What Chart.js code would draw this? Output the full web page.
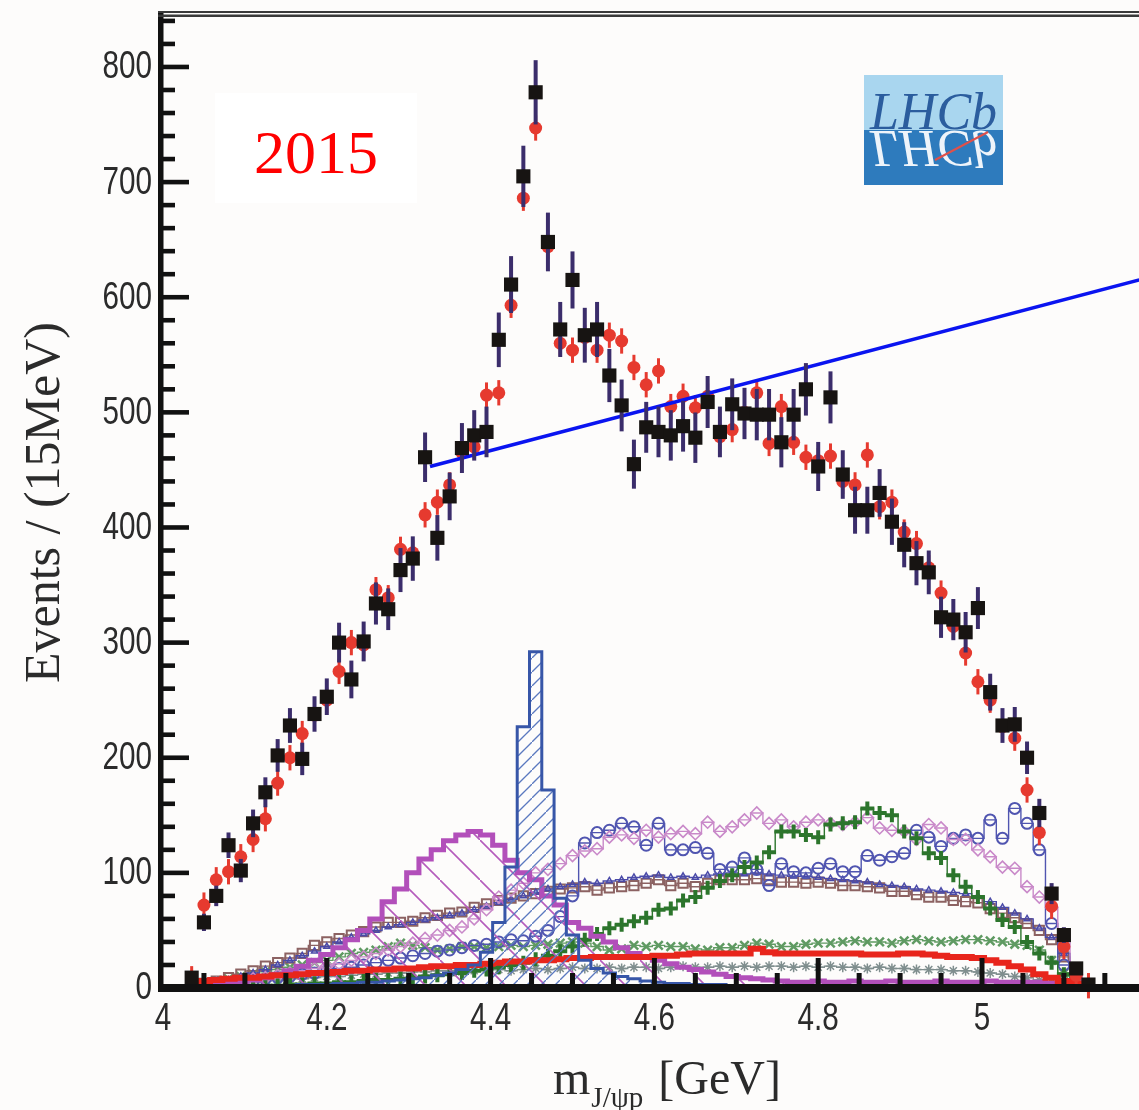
<!DOCTYPE html>
<html>
<head>
<meta charset="utf-8">
<script src="https://cdn.jsdelivr.net/npm/chart.js@4.4.0/dist/chart.umd.min.js"></script>
<style>
html, body { margin: 0; padding: 0; background: #fdfcfb; }
canvas { display: block; }
</style>
</head>
<body>
<canvas id="chart" width="1139" height="1110"></canvas>
<script>
// bin centres of m(J/psi p), 15 MeV bins
var mass = [
  4.035, 4.050, 4.065, 4.080, 4.095, 4.110, 4.125, 4.140, 4.155, 4.170,
  4.185, 4.200, 4.215, 4.230, 4.245, 4.260, 4.275, 4.290, 4.305, 4.320,
  4.335, 4.350, 4.365, 4.380, 4.395, 4.410, 4.425, 4.440, 4.455, 4.470,
  4.485, 4.500, 4.515, 4.530, 4.545, 4.560, 4.575, 4.590, 4.605, 4.620,
  4.635, 4.650, 4.665, 4.680, 4.695, 4.710, 4.725, 4.740, 4.755, 4.770,
  4.785, 4.800, 4.815, 4.830, 4.845, 4.860, 4.875, 4.890, 4.905, 4.920,
  4.935, 4.950, 4.965, 4.980, 4.995, 5.010, 5.025, 5.040, 5.055, 5.070,
  5.085, 5.100, 5.115, 5.130
];

// data (black squares) and their errors
var dataEvents = [
  9, 57, 80, 124, 102, 143, 170, 202, 228, 199,
  238, 253, 300, 268, 301, 334, 329, 363, 373, 461,
  391, 427, 469, 480, 483, 563, 611, 705, 778, 648,
  572, 615, 567, 572, 532, 506, 455, 487, 483, 480,
  488, 478, 509, 483, 507, 499, 498, 498, 474, 498,
  520, 453, 513, 446, 415, 415, 430, 405, 385, 369,
  361, 322, 320, 309, 330, 257, 228, 229, 200, 152,
  82, 46, 17, 3
];
var dataErr = [
  3, 7.5, 8.9, 11.1, 10.1, 12, 13, 14.2, 15.1, 14.1,
  15.4, 15.9, 17.3, 16.4, 17.3, 18.3, 18.1, 19.1, 19.3, 21.5,
  19.8, 20.7, 21.7, 21.9, 22, 23.7, 24.7, 26.6, 27.9, 25.5,
  23.9, 24.8, 23.8, 23.9, 23.1, 22.5, 21.3, 22.1, 22, 21.9,
  22.1, 21.9, 22.6, 22, 22.5, 22.3, 22.3, 22.3, 21.8, 22.3,
  22.8, 21.3, 22.6, 21.1, 20.4, 20.4, 20.7, 20.1, 19.6, 19.2,
  19, 17.9, 17.9, 17.6, 18.2, 16, 15.1, 15.1, 14.1, 12.3,
  9.1, 6.8, 4.1, 1.7
];

// full fit (red dots)
var fitTotal = [
  8, 72, 94, 101, 114, 129, 147, 178, 200, 221,
  237, 250, 275, 300, 298, 346, 339, 381, 378, 411,
  422, 437, 465, 470, 515, 517, 593, 686, 747, 644,
  560, 554, 565, 554, 567, 562, 539, 524, 536, 505,
  514, 504, 514, 479, 485, 500, 517, 473, 505, 474,
  461, 458, 462, 440, 437, 463, 418, 422, 396, 386,
  365, 343, 314, 291, 266, 250, 227, 217, 172, 135,
  71, 36, 11, 2
];
var fitErr = 11;

// Pc(4450) hatched blue
var pc4450 = [
  0, 0, 1, 1, 1, 1, 2, 2, 2, 3,
  3, 3, 4, 4, 5, 5, 6, 7, 8, 9,
  11, 13, 16, 20, 31, 57, 105, 227, 292, 172,
  78, 46, 24, 17, 13, 10, 8, 6, 5, 4,
  4, 3, 3, 3, 2, 2, 2, 2, 2, 2,
  2, 2, 1, 1, 1, 1, 1, 1, 1, 1,
  1, 1, 1, 1, 1, 1, 1, 1, 1, 1,
  1, 0, 0, 0
];
// Pc(4380) hatched magenta
var pc4380 = [
  1, 2, 3, 4, 5, 7, 9, 12, 15, 19,
  24, 29, 35, 42, 50, 60, 75, 86, 100, 112,
  120, 128, 133, 136, 133, 124, 111, 100, 94, 80,
  72, 57, 52, 45, 40, 35, 30, 27, 24, 21,
  18, 16, 14, 12, 10, 9, 8, 7, 6, 5,
  5, 6, 5, 5, 6, 5, 5, 6, 5, 5,
  5, 6, 5, 5, 5, 6, 5, 5, 5, 5,
  4, 3, 1, 0
];
// Lambda* components
var lambdaCircles = [
  1, 2, 3, 4, 5, 6, 8, 9, 10, 12,
  13, 15, 17, 18, 20, 22, 24, 26, 28, 30,
  32, 33, 35, 37, 38, 40, 42, 41, 45, 50,
  62, 80, 126, 135, 137, 143, 140, 124, 143, 120,
  120, 122, 117, 103, 105, 113, 103, 89, 108, 101,
  100, 104, 108, 101, 101, 115, 111, 114, 117, 137,
  131, 123, 130, 133, 130, 146, 130, 156, 143, 120,
  56, 20, 5, 1
];
var lambdaDiamonds = [
  2, 3, 4, 5, 6, 8, 9, 11, 13, 15,
  17, 19, 21, 24, 27, 30, 33, 36, 39, 43,
  46, 50, 53, 60, 68, 79, 85, 91, 100, 103,
  108, 115, 119, 121, 131, 133, 130, 137, 131, 134,
  136, 134, 144, 136, 140, 146, 152, 143, 146, 140,
  144, 146, 143, 142, 144, 148, 139, 137, 136, 129,
  142, 139, 129, 129, 120, 114, 105, 104, 88, 79,
  70, 42, 12, 2
];
var lambdaCrosses = [
  0, 0, 1, 1, 1, 2, 2, 2, 3, 3,
  4, 4, 5, 5, 6, 7, 7, 8, 9, 10,
  11, 12, 13, 15, 16, 18, 20, 22, 25, 28,
  32, 36, 42, 47, 52, 55, 58, 61, 68, 69,
  76, 79, 87, 93, 98, 105, 109, 118, 136, 136,
  133, 131, 142, 143, 144, 156, 152, 150, 136, 130,
  117, 113, 98, 88, 79, 69, 59, 53, 40, 30,
  22, 12, 4, 1
];
var lambdaSquares = [
  2, 4, 6, 9, 12, 15, 19, 22, 26, 30,
  37, 40, 43, 46, 49, 53, 57, 57, 58, 61,
  63, 65, 66, 70, 73, 76, 78, 80, 82, 84,
  86, 87, 88, 85, 87, 88, 89, 91, 94, 89,
  91, 88, 91, 94, 94, 94, 95, 94, 92, 92,
  91, 92, 91, 89, 89, 88, 87, 84, 84, 81,
  79, 79, 76, 75, 74, 69, 65, 61, 56, 50,
  42, 27, 13, 2
];
var lambdaTriangles = [
  2, 3, 5, 7, 10, 13, 16, 20, 24, 28,
  32, 36, 40, 44, 47, 50, 53, 55, 57, 59,
  61, 63, 65, 68, 71, 74, 77, 80, 83, 86,
  88, 90, 92, 91, 93, 94, 96, 97, 98, 96,
  97, 96, 98, 99, 100, 99, 100, 99, 98, 97,
  97, 96, 95, 94, 93, 92, 90, 89, 88, 86,
  85, 84, 83, 82, 80, 75, 70, 65, 60, 52,
  44, 30, 14, 3
];
var lambdaX = [
  2, 4, 6, 8, 10, 12, 14, 16, 18, 20,
  22, 24, 27, 30, 31, 33, 36, 39, 37, 35,
  33, 34, 36, 36, 35, 36, 37, 36, 37, 38,
  39, 40, 39, 36, 33, 34, 37, 36, 37, 36,
  36, 34, 33, 35, 35, 37, 39, 38, 36, 36,
  38, 39, 39, 40, 41, 40, 40, 39, 41, 42,
  41, 40, 41, 42, 42, 41, 40, 38, 37, 33,
  24, 13, 5, 1
];
var lambdaStars = [
  1, 2, 3, 4, 5, 5, 6, 7, 8, 8,
  9, 10, 10, 11, 12, 12, 13, 13, 14, 14,
  15, 15, 14, 15, 16, 16, 15, 16, 17, 16,
  17, 18, 17, 17, 18, 17, 18, 18, 17, 18,
  19, 18, 18, 19, 18, 19, 18, 19, 19, 18,
  19, 18, 19, 18, 18, 17, 18, 17, 17, 16,
  16, 16, 15, 15, 14, 13, 12, 10, 9, 7,
  5, 3, 2, 1
];
// background (thick red line)
var bkg = [
  5, 6, 7, 8, 9, 9, 10, 11, 11, 12,
  13, 13, 14, 15, 15, 16, 16, 17, 17, 18,
  19, 19, 20, 20, 21, 22, 23, 23, 24, 24,
  25, 26, 26, 27, 27, 27, 27, 27, 28, 28,
  29, 30, 30, 30, 30, 30, 34, 31, 30, 30,
  30, 30, 30, 30, 30, 29, 29, 29, 30, 30,
  29, 28, 27, 27, 26, 24, 22, 19, 16, 12,
  9, 6, 4, 3
];

// straight blue line drawn over the plot
var lineMass = [4.326, 5.192];
var lineEvents = [453, 615];

var yLabels = [0, 100, 200, 300, 400, 500, 600, 700, 800];
var xLabels = [4, 4.2, 4.4, 4.6, 4.8, 5];

function pts(arr) {
  return mass.map(function(m, i) { return {x: m, y: arr[i]}; });
}

var tmpCtx = document.createElement('canvas').getContext('2d');
var blueHatch = (function() {
  var c = document.createElement('canvas'); c.width = 14; c.height = 14;
  var g = c.getContext('2d'); g.strokeStyle = '#5b79bf'; g.lineWidth = 1.3;
  g.beginPath(); g.moveTo(-1, 15); g.lineTo(15, -1); g.stroke();
  return tmpCtx.createPattern(c, 'repeat');
})();
var magHatch = (function() {
  var c = document.createElement('canvas'); c.width = 40; c.height = 40;
  var g = c.getContext('2d'); g.strokeStyle = '#b45cbc'; g.lineWidth = 1.6;
  g.beginPath(); g.moveTo(-1, -1); g.lineTo(41, 41); g.stroke();
  return tmpCtx.createPattern(c, 'repeat');
})();

var errorBars = {
  id: 'errorBars',
  beforeDatasetDraw: function(chart, args) {
    var ds = chart.data.datasets[args.index];
    if (ds.errors === undefined) return;
    var y = chart.scales.y, ctx = chart.ctx;
    ctx.save();
    ctx.strokeStyle = ds.errorColor;
    ctx.lineWidth = ds.errorWidth;
    args.meta.data.forEach(function(p, i) {
      var v = ds.data[i].y;
      var e = typeof ds.errors === 'number' ? ds.errors : ds.errors[i];
      ctx.beginPath();
      ctx.moveTo(p.x, y.getPixelForValue(v - e));
      ctx.lineTo(p.x, y.getPixelForValue(v + e));
      ctx.stroke();
    });
    ctx.restore();
  }
};

var tickFont = '38px "Liberation Sans"';
var narrow = 0.78;

var decor = {
  id: 'decor',
  beforeDraw: function(chart) {
    var ctx = chart.ctx;
    ctx.save();
    ctx.fillStyle = '#fdfcfb';
    ctx.fillRect(0, 0, chart.width, chart.height);
    ctx.restore();
  },
  beforeDatasetsDraw: function(chart) {
    var ctx = chart.ctx;
    ctx.save();
    // 2015 label
    ctx.fillStyle = '#ffffff';
    ctx.fillRect(215, 93, 202, 110);
    ctx.fillStyle = '#ff0000';
    ctx.font = '62px "Liberation Serif"';
    ctx.textAlign = 'center';
    ctx.textBaseline = 'alphabetic';
    ctx.fillText('2015', 316, 173);
    // LHCb logo
    var lx = 864, ly = 75, lw = 139, lh = 110;
    ctx.fillStyle = '#a9d6ef';
    ctx.fillRect(lx, ly, lw, lh / 2);
    ctx.fillStyle = '#2e7bbd';
    ctx.fillRect(lx, ly + lh / 2, lw, lh / 2);
    ctx.font = 'italic 52px "Liberation Serif"';
    ctx.fillStyle = '#2b5d9e';
    ctx.fillText('LHCb', lx + lw / 2, ly + lh / 2 - 1);
    ctx.save();
    ctx.translate(0, 2 * (ly + lh / 2));
    ctx.scale(1, -1);
    ctx.fillStyle = '#eef4fa';
    ctx.fillText('LHCb', lx + lw / 2, ly + lh / 2 - 1);
    ctx.restore();
    ctx.strokeStyle = '#e0504a';
    ctx.lineWidth = 2;
    ctx.beginPath();
    ctx.moveTo(935, 160);
    ctx.lineTo(988, 132);
    ctx.stroke();
    ctx.restore();
  },
  afterDatasetsDraw: function(chart) {
    var ctx = chart.ctx, a = chart.chartArea;
    var xs = chart.scales.x, ys = chart.scales.y;
    ctx.save();
    ctx.fillStyle = '#111';
    // y ticks (inside)
    for (var v = 0; v <= 840; v += 20) {
      var py = ys.getPixelForValue(v);
      var len = v % 100 === 0 ? 26 : 12;
      ctx.fillRect(a.left, py - 2.3, len, 4.6);
    }
    // x ticks (inside)
    for (var k = 1; k <= 23; k++) {
      var px = xs.getPixelForValue(4 + k * 0.05);
      var tl = k % 4 === 0 ? 30 : 15;
      ctx.fillRect(px - 2.5, a.bottom - tl, 5, tl);
    }
    // spines
    ctx.fillRect(a.left - 5, a.top - 6, 5.5, a.bottom - a.top + 10);
    ctx.fillRect(a.left - 5, a.bottom - 4, a.right - a.left + 5, 8);
    ctx.fillStyle = '#3a3a3a';
    ctx.fillRect(a.left - 5, a.top - 6, a.right - a.left + 5, 2);
    ctx.fillRect(a.left - 5, a.top - 2.5, a.right - a.left + 5, 2.5);

    // tick labels, narrow sans
    ctx.fillStyle = '#2b2b2b';
    ctx.font = tickFont;
    ctx.textBaseline = 'middle';
    ctx.textAlign = 'right';
    yLabels.forEach(function(v) {
      ctx.save();
      ctx.translate(152, ys.getPixelForValue(v) + 1);
      ctx.scale(narrow, 1);
      ctx.fillText(String(v), 0, 0);
      ctx.restore();
    });
    ctx.textBaseline = 'alphabetic';
    ctx.textAlign = 'center';
    xLabels.forEach(function(v) {
      ctx.save();
      ctx.translate(xs.getPixelForValue(v), 1030);
      ctx.scale(narrow, 1);
      ctx.fillText(String(v), 0, 0);
      ctx.restore();
    });

    // x title with subscript
    ctx.fillStyle = '#2b2b2b';
    ctx.textAlign = 'left';
    var big = '48px "Liberation Serif"', small = '29px "Liberation Serif"';
    ctx.font = big;
    var w1 = ctx.measureText('m').width, w3 = ctx.measureText('[GeV]').width;
    ctx.font = small;
    var w2 = ctx.measureText('J/\u03c8p').width;
    var gap = 16;
    var x0 = 667 - (w1 + w2 + gap + w3) / 2;
    ctx.font = big;
    ctx.fillText('m', x0, 1094);
    ctx.font = small;
    ctx.fillText('J/\u03c8p', x0 + w1 + 1, 1107);
    ctx.font = big;
    ctx.fillText('[GeV]', x0 + w1 + w2 + gap, 1094);
    ctx.restore();
  }
};

function comp(label, arr, color, style, radius, bw, order) {
  return {
    label: label,
    data: pts(arr),
    stepped: 'middle',
    borderColor: color,
    borderWidth: 1.4,
    pointStyle: style,
    pointRadius: radius,
    pointBorderColor: color,
    pointBorderWidth: bw,
    pointBackgroundColor: 'rgba(255,255,255,0)',
    fill: false,
    order: order
  };
}

function noPad(s) {
  s.paddingTop = 0; s.paddingBottom = 0; s.paddingLeft = 0; s.paddingRight = 0;
}

var ctx = document.getElementById('chart').getContext('2d');
var myChart = new Chart(ctx, {
  type: 'line',
  data: {
    datasets: [
      {
        label: 'data',
        data: pts(dataEvents),
        showLine: false,
        pointStyle: 'rect',
        pointRadius: 10,
        pointBackgroundColor: '#171412',
        pointBorderWidth: 0,
        errors: dataErr,
        errorColor: '#3b2d6b',
        errorWidth: 4,
        clip: false,
        order: 1
      },
      {
        label: 'fit',
        data: pts(fitTotal),
        showLine: false,
        pointStyle: 'circle',
        pointRadius: 6.5,
        pointBackgroundColor: '#e63a2f',
        pointBorderWidth: 0,
        errors: fitErr,
        errorColor: '#e63a2f',
        errorWidth: 3,
        clip: false,
        order: 3
      },
      {
        label: 'line',
        data: lineMass.map(function(m, i) { return {x: m, y: lineEvents[i]}; }),
        borderColor: '#0a14f0',
        borderWidth: 3.5,
        pointRadius: 0,
        fill: false,
        order: 2
      },
      {
        label: 'Pc(4450)',
        data: pts(pc4450),
        stepped: 'middle',
        borderColor: '#3756a8',
        borderWidth: 3,
        pointRadius: 0,
        fill: 'origin',
        backgroundColor: blueHatch,
        order: 5
      },
      {
        label: 'Pc(4380)',
        data: pts(pc4380),
        stepped: 'middle',
        borderColor: '#b24fba',
        borderWidth: 5,
        pointRadius: 0,
        fill: 'origin',
        backgroundColor: magHatch,
        order: 7
      },
      {
        label: 'bkg',
        data: pts(bkg),
        stepped: 'middle',
        borderColor: '#e8251c',
        borderWidth: 6,
        pointRadius: 0,
        fill: false,
        order: 6
      },
      comp('L1', lambdaCrosses, '#2c752c', 'cross', 7, 4, 8),
      comp('L2', lambdaDiamonds, '#c989c9', 'rectRot', 6, 1.6, 9),
      comp('L3', lambdaCircles, '#5055b0', 'circle', 5.5, 2, 10),
      comp('L4', lambdaTriangles, '#4a4aa8', 'triangle', 3.5, 1.5, 11),
      comp('L5', lambdaSquares, '#8c6262', 'rect', 6.5, 2, 12),
      comp('L6', lambdaX, '#5f9a62', 'crossRot', 6, 2.5, 13),
      comp('L7', lambdaStars, '#7f8e8e', 'star', 5, 1.5, 14)
    ]
  },
  options: {
    responsive: false,
    animation: false,
    layout: { autoPadding: false, padding: { top: 17, right: 0, left: 0, bottom: 0 } },
    plugins: { legend: { display: false }, tooltip: { enabled: false } },
    scales: {
      x: {
        type: 'linear',
        min: 4,
        max: 5.1917,
        grid: { display: false, drawTicks: false },
        border: { display: false },
        ticks: { display: false, stepSize: 0.2, includeBounds: false },
        afterFit: function(s) { s.height = 122; noPad(s); }
      },
      y: {
        min: 0,
        max: 843.4,
        grid: { display: false, drawTicks: false },
        border: { display: false },
        ticks: { display: false, stepSize: 100, includeBounds: false },
        title: {
          display: true,
          text: 'Events / (15MeV)',
          color: '#2b2b2b',
          font: { family: '"Liberation Serif"', size: 50 },
          padding: { top: 16, bottom: 0 }
        },
        afterFit: function(s) { s.width = 163; noPad(s); }
      }
    }
  },
  plugins: [errorBars, decor]
});
</script>
</body>
</html>
